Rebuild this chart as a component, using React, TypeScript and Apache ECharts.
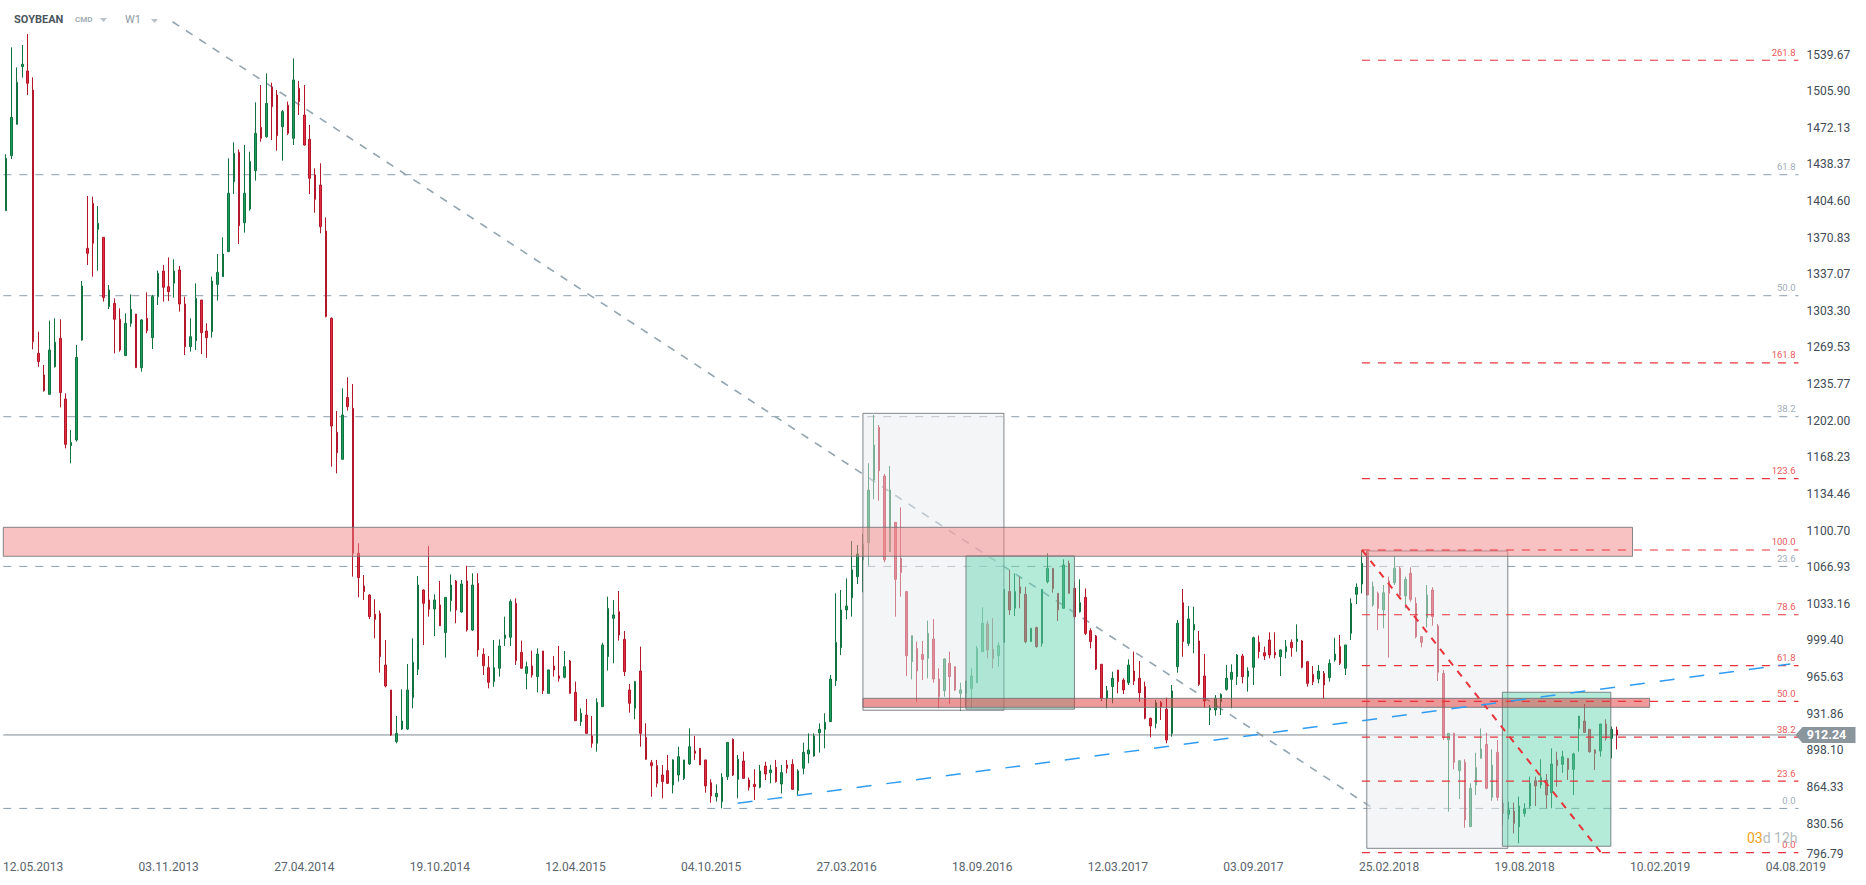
import { useEffect, useRef } from "react";
import * as echarts from "echarts";

// ---------- axis data ----------
const firstWeekUTC = Date.UTC(2013, 3, 7); // first weekly candle (Sunday)
const axisWeeks = 331; // weekly slots on the time axis, up to 04.08.2019

const dateTickLabels = [
  "12.05.2013", "03.11.2013", "27.04.2014", "19.10.2014", "12.04.2015", "04.10.2015", "27.03.2016",
  "18.09.2016", "12.03.2017", "03.09.2017", "25.02.2018", "19.08.2018", "10.02.2019", "04.08.2019",
];

const priceTicks = [
  796.79, 830.56, 864.33, 898.1, 931.86, 965.63, 999.4, 1033.16, 1066.93, 1100.7, 1134.46, 1168.23,
  1202.0, 1235.77, 1269.53, 1303.3, 1337.07, 1370.83, 1404.6, 1438.37, 1472.13, 1505.9, 1539.67,
];
const priceMin = 796.79;
const priceMax = 1589.93;

// ---------- weekly candles: [open, close, low, high] ----------
const weeks2013 = [
  [1395.7, 1443.9, 1395.7, 1447.6], [1446.4, 1481.7, 1443.3, 1546.3], [1475.3, 1514.0, 1475.3, 1527.8],
  [1528.5, 1530.6, 1518.3, 1548.4], [1524.5, 1513.1, 1502.3, 1558.6], [1506.9, 1274.9, 1267.8, 1518.6],
  [1264.1, 1256.5, 1251.8, 1284.1], [1244.2, 1229.7, 1228.8, 1253.4], [1226.3, 1267.2, 1226.3, 1294.3],
  [1251.8, 1274.3, 1250.9, 1296.4], [1278.0, 1227.9, 1214.3, 1295.5], [1222.0, 1180.2, 1176.5, 1227.2],
  [1179.0, 1181.8, 1162.7, 1193.4], [1184.2, 1260.4, 1182.7, 1271.8], [1276.4, 1326.2, 1275.8, 1330.8],
  [1361.0, 1356.3, 1345.6, 1409.2], [1402.4, 1365.6, 1334.8, 1408.6], [1378.5, 1384.0, 1340.4, 1400.0],
  [1371.1, 1315.5, 1311.8, 1371.1], [1307.2, 1322.5, 1305.0, 1327.1], [1310.2, 1295.5, 1264.1, 1314.8],
  [1295.5, 1267.2, 1265.7, 1305.6], [1262.0, 1291.8, 1262.0, 1301.0], [1291.8, 1304.7, 1288.7, 1318.5],
  [1300.4, 1250.9, 1250.9, 1300.4], [1250.9, 1294.9, 1247.2, 1295.5], [1296.4, 1285.0, 1282.6, 1320.4],
  [1278.6, 1316.4, 1268.1, 1317.9], [1316.4, 1337.9, 1308.7, 1340.4], [1340.0, 1325.0, 1311.8, 1345.6],
  [1325.6, 1321.0, 1312.4, 1352.6], [1328.7, 1340.0, 1315.5, 1350.8], [1341.0, 1309.6, 1302.6, 1344.7],
  [1309.6, 1270.3, 1262.6, 1316.4], [1270.3, 1279.5, 1265.7, 1296.4], [1275.8, 1314.8, 1267.2, 1328.7],
  [1313.3, 1283.2, 1263.5, 1313.3], [1284.7, 1278.6, 1260.1, 1291.8], [1284.1, 1330.8, 1278.6, 1334.8],
];

const weeks2014 = [
  [1327.7, 1338.8, 1312.7, 1355.7], [1334.8, 1355.7, 1334.8, 1371.1], [1357.9, 1411.7, 1357.9, 1443.9],
  [1422.4, 1448.5, 1411.0, 1458.7], [1449.5, 1381.8, 1365.0, 1452.2], [1384.6, 1411.7, 1375.4, 1456.2],
  [1397.2, 1440.9, 1395.7, 1450.1], [1432.6, 1467.0, 1423.4, 1495.6], [1472.5, 1462.4, 1459.3, 1511.5],
  [1463.9, 1494.6, 1463.0, 1522.3], [1509.4, 1491.6, 1460.8, 1513.7], [1502.3, 1464.8, 1451.0, 1506.9],
  [1473.1, 1487.0, 1441.8, 1488.5], [1492.8, 1467.0, 1465.5, 1496.2], [1462.4, 1516.2, 1456.2, 1536.1],
  [1508.5, 1496.2, 1483.9, 1515.2], [1483.9, 1456.2, 1455.6, 1511.5], [1461.5, 1425.5, 1411.0, 1474.7],
  [1428.6, 1406.1, 1393.8, 1434.7], [1419.3, 1380.9, 1374.8, 1439.3], [1376.9, 1298.0, 1297.3, 1389.5],
  [1296.4, 1197.1, 1159.6, 1297.3], [1191.3, 1172.5, 1153.5, 1211.0], [1166.4, 1207.3, 1166.4, 1231.9],
  [1223.5, 1214.9, 1211.3, 1242.0], [1213.4, 1079.7, 1058.2, 1235.8], [1079.7, 1057.3, 1039.1, 1088.9],
  [1049.6, 1044.4, 1036.7, 1059.7], [1041.3, 1021.3, 1019.2, 1041.9], [1023.5, 1018.9, 1001.3, 1037.3],
  [1024.4, 984.4, 969.7, 1026.9], [976.7, 957.4, 956.1, 999.8], [953.7, 912.2, 911.3, 953.7],
  [906.1, 913.7, 904.5, 929.7], [917.7, 925.1, 916.8, 954.3], [917.7, 953.7, 916.8, 977.7],
  [946.6, 979.2, 936.8, 1001.3], [972.8, 1050.5, 967.5, 1058.8], [1045.9, 1033.6, 995.2, 1046.5],
  [1036.7, 1028.1, 1021.3, 1086.5], [1028.4, 1036.7, 1003.5, 1041.9], [1032.1, 1013.0, 1012.7, 1054.2],
  [1006.6, 1039.1, 983.5, 1039.1], [1036.1, 1050.5, 1025.9, 1060.3], [1054.2, 1027.5, 1015.2, 1055.1],
  [1025.6, 1051.4, 1025.0, 1055.1], [1054.2, 1009.0, 1007.5, 1068.3], [1009.0, 1050.5, 1008.1, 1061.3],
  [1052.0, 990.6, 984.4, 1061.3], [986.6, 976.1, 967.5, 992.1], [974.3, 960.8, 955.2, 985.0],
  [961.4, 974.3, 956.8, 999.8],
];

const weeks2015 = [
  [973.7, 994.3, 966.0, 1000.4], [1001.3, 1004.4, 994.3, 1021.3], [1002.3, 1035.2, 994.3, 1037.3],
  [1033.6, 980.8, 976.8, 1038.2], [988.4, 973.7, 973.7, 999.2], [969.0, 975.2, 954.3, 979.8],
  [975.8, 967.5, 965.1, 990.0], [966.0, 986.9, 951.5, 992.1], [989.7, 953.1, 950.0, 989.7],
  [950.6, 972.2, 950.6, 972.2], [975.8, 972.2, 966.0, 985.0], [966.6, 964.5, 961.4, 994.3],
  [965.4, 975.2, 964.5, 989.7], [980.4, 950.6, 950.6, 981.4], [951.5, 925.4, 925.1, 961.4],
  [924.5, 932.2, 920.5, 936.8], [930.6, 913.7, 913.1, 945.4], [911.3, 904.5, 900.5, 929.7],
  [904.5, 942.3, 896.8, 946.0], [938.3, 995.2, 938.3, 997.3], [984.4, 1029.0, 971.5, 1039.8],
  [1019.8, 1022.9, 978.3, 1036.7], [1025.9, 1004.4, 999.2, 1045.0], [1000.4, 970.6, 966.6, 1008.1],
  [953.7, 941.4, 932.8, 959.2], [936.8, 961.4, 926.7, 962.0], [971.2, 913.7, 901.4, 993.7],
  [910.0, 889.8, 889.2, 923.0], [886.7, 883.9, 855.3, 889.2], [883.9, 867.6, 864.0, 889.2],
  [875.3, 869.2, 853.8, 884.6], [879.3, 867.6, 867.0, 893.8], [866.1, 889.2, 858.4, 889.8],
  [875.3, 892.2, 869.2, 901.4], [872.2, 889.2, 870.7, 889.2], [885.5, 901.4, 884.6, 918.3],
  [897.4, 895.3, 889.2, 911.3], [899.9, 884.6, 884.6, 899.9], [889.2, 865.2, 859.0, 889.2],
  [868.2, 856.0, 849.8, 871.3], [855.3, 858.4, 850.7, 866.7], [850.7, 873.2, 844.6, 876.9],
  [873.8, 905.4, 870.7, 905.4], [908.2, 875.3, 874.4, 909.1], [871.3, 889.8, 853.8, 893.8],
  [888.2, 872.2, 872.2, 896.8], [870.7, 864.0, 860.9, 872.9], [866.7, 864.6, 852.3, 880.6],
  [864.0, 879.0, 863.0, 884.6], [883.6, 876.2, 870.7, 887.6], [877.5, 879.9, 867.6, 884.6],
  [882.4, 869.2, 868.3, 889.2],
];

const weeks2016 = [
  [867.0, 877.5, 858.4, 884.6], [884.6, 881.5, 876.9, 889.2], [885.2, 862.1, 861.5, 889.8],
  [860.9, 879.0, 856.9, 880.6], [881.5, 896.2, 875.9, 905.1], [894.7, 898.4, 886.1, 913.7],
  [892.8, 911.3, 892.2, 913.7], [914.3, 917.4, 895.9, 922.9], [917.4, 923.9, 899.9, 932.2],
  [924.5, 963.8, 924.5, 967.5], [962.3, 997.6, 957.4, 1042.8], [992.7, 1027.5, 986.0, 1045.9],
  [1027.5, 1031.1, 1018.9, 1056.6], [1038.8, 1064.4, 1021.3, 1091.1], [1058.2, 1079.1, 1051.4, 1087.4],
  [1073.6, 1088.3, 1043.8, 1097.5], [1089.5, 1138.1, 1068.3, 1162.7], [1147.3, 1179.6, 1129.5, 1207.3],
  [1195.9, 1155.9, 1128.3, 1198.0], [1151.0, 1073.6, 1071.4, 1152.9], [1081.2, 1138.1, 1081.2, 1160.2],
  [1108.3, 1055.7, 1021.3, 1108.3], [1075.1, 1061.9, 1039.8, 1122.1], [1044.4, 985.3, 966.6, 1044.4],
  [979.8, 1003.8, 963.5, 1003.8], [992.1, 971.2, 942.9, 998.3], [986.6, 981.9, 962.9, 998.9],
  [982.9, 1005.9, 964.5, 1017.6], [1000.7, 963.8, 960.4, 1019.2], [963.8, 947.5, 936.8, 973.7],
  [953.1, 982.3, 947.5, 982.9], [978.3, 966.0, 940.8, 989.0], [975.2, 953.7, 952.8, 975.2],
  [950.6, 953.7, 934.3, 960.4], [950.6, 962.0, 938.3, 962.0], [955.2, 966.6, 936.8, 973.7],
  [960.4, 992.1, 960.4, 994.3], [989.0, 1015.2, 989.0, 1029.9], [1014.5, 990.6, 982.9, 1017.6],
  [991.2, 982.9, 973.7, 1019.8], [985.3, 994.6, 975.2, 997.6], [997.6, 1046.5, 997.6, 1046.5],
  [1044.4, 1027.5, 1022.9, 1064.4], [1029.0, 1044.4, 1021.9, 1061.3], [1048.9, 1042.8, 1029.0, 1058.2],
  [1041.9, 998.3, 996.7, 1048.9], [998.3, 1010.6, 998.3, 1010.6], [1011.2, 993.7, 992.7, 1012.1],
  [996.7, 1046.5, 993.7, 1046.5], [1053.6, 1065.9, 1052.0, 1079.7], [1065.9, 1047.4, 1043.4, 1065.9],
  [1042.8, 1027.5, 1017.3, 1042.8],
];

const weeks2017 = [
  [1029.0, 1069.0, 1029.0, 1074.2], [1070.5, 1042.8, 1042.8, 1073.0], [1047.4, 1021.3, 1018.9, 1054.2],
  [1025.9, 1034.2, 1025.0, 1055.7], [1039.1, 1005.9, 1004.4, 1047.4], [1008.4, 998.3, 992.1, 1010.6],
  [1003.5, 973.0, 972.1, 1004.4], [977.4, 946.0, 943.5, 977.4], [946.0, 953.1, 936.8, 957.4],
  [956.8, 964.5, 941.4, 970.6], [972.1, 961.4, 950.6, 972.1], [962.9, 953.7, 950.0, 964.5],
  [960.4, 976.7, 958.3, 981.9], [971.2, 962.0, 958.3, 989.0], [964.5, 951.2, 942.9, 980.4],
  [956.8, 927.6, 926.6, 961.4], [927.6, 920.5, 910.0, 928.2], [922.9, 942.0, 918.3, 944.5],
  [942.0, 938.3, 926.0, 943.5], [935.9, 907.6, 904.5, 946.6], [913.7, 952.8, 910.6, 958.3],
  [975.2, 1015.2, 969.7, 1018.2], [1034.2, 998.3, 984.4, 1046.8], [996.7, 1019.2, 994.3, 1031.1],
  [1009.0, 1014.2, 987.5, 1030.5], [998.9, 958.9, 957.4, 1008.1], [966.6, 943.5, 937.4, 986.9],
  [935.3, 936.8, 921.4, 939.9], [935.3, 946.0, 930.0, 949.0], [942.9, 949.6, 930.6, 950.6],
  [954.3, 964.5, 953.1, 976.7], [963.5, 970.0, 936.8, 977.4], [966.0, 985.9, 958.3, 986.9],
  [985.0, 966.0, 959.8, 986.9], [966.0, 971.2, 952.2, 974.6], [974.6, 1001.9, 958.3, 1002.9],
  [997.6, 989.0, 982.9, 1003.8], [988.1, 985.0, 981.4, 993.7], [999.8, 986.0, 982.9, 1006.9],
  [988.4, 986.0, 982.9, 1006.9], [984.4, 990.6, 966.6, 991.2], [989.0, 993.7, 982.9, 999.8],
  [997.6, 992.7, 984.4, 1000.4], [998.3, 1000.7, 989.0, 1014.2], [998.9, 974.6, 973.7, 999.8],
  [979.8, 959.8, 956.8, 980.4], [968.1, 961.4, 958.3, 975.8], [963.8, 971.2, 959.8, 976.7],
  [969.0, 958.3, 945.4, 971.2], [965.1, 978.3, 961.4, 981.9], [981.4, 986.9, 979.8, 1001.9],
  [993.7, 978.3, 976.7, 1004.4],
];

const weeks2018 = [
  [973.7, 995.2, 967.5, 995.2], [1005.9, 1033.6, 999.8, 1038.2], [1041.9, 1048.4, 1033.0, 1052.0],
  [1051.4, 1070.5, 1042.8, 1082.8], [1081.0, 1041.3, 1041.3, 1082.2], [1032.1, 1049.0, 1030.5, 1053.6],
  [1042.8, 1029.0, 1009.0, 1044.4], [1027.5, 1043.4, 1010.6, 1050.5], [1054.2, 1042.8, 983.5, 1058.2],
  [1052.6, 1065.9, 1050.5, 1077.2], [1065.9, 1040.4, 1039.8, 1067.4], [1040.4, 1055.7, 1029.0, 1058.2],
  [1061.3, 1037.3, 1035.1, 1066.8], [1033.6, 1002.9, 1001.3, 1039.1], [1002.9, 997.6, 993.0, 1002.9],
  [1020.4, 1041.3, 1011.5, 1050.5], [1045.9, 1021.3, 1013.0, 1048.4], [1012.7, 970.0, 962.0, 1014.5],
  [969.0, 910.0, 907.6, 972.1], [907.6, 913.7, 841.5, 913.7], [913.7, 887.0, 880.5, 914.3],
  [879.3, 888.5, 853.2, 889.2], [887.0, 833.8, 826.7, 889.8], [827.7, 863.0, 827.7, 867.6],
  [866.1, 882.1, 856.9, 895.9], [890.7, 899.3, 890.7, 918.3], [903.6, 863.0, 862.1, 914.3],
  [854.7, 884.5, 851.6, 899.0], [896.2, 854.7, 851.6, 907.6], [849.2, 840.0, 829.2, 852.9],
  [839.0, 843.1, 834.4, 850.7], [842.1, 830.7, 821.5, 849.8], [827.6, 846.7, 812.3, 855.3],
  [839.9, 843.9, 836.9, 849.2], [846.7, 867.6, 844.6, 873.8], [870.1, 865.2, 846.7, 873.8],
  [866.1, 873.2, 863.0, 889.8], [870.7, 856.9, 844.6, 876.2], [859.0, 885.4, 844.6, 899.9],
  [889.1, 883.9, 864.5, 896.8], [885.1, 892.1, 877.4, 897.7], [890.6, 880.5, 870.7, 890.6],
  [880.5, 894.7, 856.9, 895.9], [918.3, 929.7, 896.8, 929.7], [925.1, 914.6, 914.6, 940.8],
  [917.4, 896.8, 895.9, 917.4], [898.4, 895.3, 879.9, 899.0], [897.4, 922.3, 892.2, 922.3],
  [922.3, 909.1, 907.0, 926.6], [909.1, 917.4, 890.7, 919.9], [916.8, 912.24, 898.9, 919.9],
];

const lastPrice = 912.24;

// ---------- drawings (data space: week index, price) ----------
const grayFibLow = 844.5;
const grayFibHigh = 1790.0;
const grayFibLevels = [0, 23.6, 38.2, 50, 61.8];

const redFibLow = 803.7;
const redFibHigh = 1082.8;
const redFibStartWeek = 250;
const redFibLevels = [0, 23.6, 38.2, 50, 61.8, 78.6, 100, 123.6, 161.8, 261.8];

const grayTrend = [[30.7, 1569.9], [251.6, 846.1]];
const blueTrend = [[134.9, 849.2], [329.0, 977.7]];
const redTrend = [[250.0, 1082.8], [294.1, 803.7]];

// [fromWeek, toWeek, topPrice, bottomPrice, kind]
const rangeBoxes: [number, number, number, number, string][] = [
  [158.0, 184.0, 1208.8, 935.0, "gray"],
  [177.0, 197.0, 1077.5, 936.0, "green"],
  [250.9, 276.9, 1081.9, 807.7, "gray"],
  [275.9, 295.9, 951.6, 809.6, "green"],
];
const priceZones: [number, number, number, number, string][] = [
  [-0.5, 299.9, 1103.7, 1077.0, "resistance"],
  [158.0, 303.05, 946.0, 937.7, "support"],
];

// ---------- styles ----------
const FONT = "Roboto, 'Noto Sans', sans-serif";
const boxFill: Record<string, string> = {
  gray: "rgba(233,235,239,0.5)",
  green: "rgba(103,213,177,0.5)",
  resistance: "rgba(243,133,133,0.5)",
  support: "rgba(225,55,55,0.5)",
};

const pad = (n: number) => (n < 10 ? "0" + n : "" + n);
const weekDates = Array.from({ length: axisWeeks }, (_, i) => {
  const d = new Date(firstWeekUTC + i * 7 * 86400000);
  return `${pad(d.getUTCDate())}.${pad(d.getUTCMonth() + 1)}.${d.getUTCFullYear()}`;
});

const candles = [...weeks2013, ...weeks2014, ...weeks2015, ...weeks2016, ...weeks2017, ...weeks2018];

function projector(api: any) {
  const p0 = api.coord([0, 1000]);
  const p1 = api.coord([1, 1000]);
  const step = p1[0] - p0[0];
  return (week: number, price: number): [number, number] => [p0[0] + week * step, api.coord([0, price])[1]];
}

function renderUnder(_params: any, api: any) {
  const P = projector(api);
  const L = P(-0.5, 1000)[0];
  const R = P(axisWeeks - 0.5, 1000)[0];
  const children: any[] = [];
  grayFibLevels.forEach((lv) => {
    const y = P(0, grayFibLow + (lv / 100) * (grayFibHigh - grayFibLow))[1];
    children.push({
      type: "line",
      shape: { x1: L, y1: y, x2: R, y2: y },
      style: { stroke: "#8d9ea9", lineWidth: 1, lineDash: [8, 8] },
    });
  });
  const a = P(grayTrend[0][0], grayTrend[0][1]);
  const b = P(grayTrend[1][0], grayTrend[1][1]);
  children.push({
    type: "line",
    shape: { x1: a[0], y1: a[1], x2: b[0], y2: b[1] },
    style: { stroke: "#93a5b0", lineWidth: 1.6, lineDash: [8, 8] },
  });
  const yp = P(0, lastPrice)[1];
  children.push({
    type: "line",
    shape: { x1: L, y1: yp, x2: R, y2: yp },
    style: { stroke: "#7f8a91", lineWidth: 1 },
  });
  return { type: "group", children };
}

function renderOver(_params: any, api: any) {
  const P = projector(api);
  const R = P(axisWeeks - 0.5, 1000)[0];
  const children: any[] = [];
  const rect = (b: [number, number, number, number, string]) => {
    const tl = P(b[0], b[2]);
    const br = P(b[1], b[3]);
    children.push({
      type: "rect",
      shape: { x: tl[0], y: tl[1], width: br[0] - tl[0], height: br[1] - tl[1] },
      style: { fill: boxFill[b[4]], stroke: "rgba(110,115,120,0.85)", lineWidth: 1 },
    });
  };
  rangeBoxes.forEach(rect);
  priceZones.forEach(rect);

  // red fibonacci
  redFibLevels.forEach((lv) => {
    const v = redFibLow + (lv / 100) * (redFibHigh - redFibLow);
    const s = P(redFibStartWeek, v);
    children.push({
      type: "line",
      shape: { x1: s[0], y1: s[1], x2: R, y2: s[1] },
      style: { stroke: "#e8333a", lineWidth: 1.2, lineDash: [8, 8] },
    });
    children.push({
      type: "text",
      x: R - 3,
      y: s[1] - 3,
      style: { text: lv.toFixed(1), fill: "#e8585c", font: `9.5px ${FONT}`, align: "right", verticalAlign: "bottom" },
    });
  });
  // gray fibonacci labels
  grayFibLevels.forEach((lv) => {
    const y = P(0, grayFibLow + (lv / 100) * (grayFibHigh - grayFibLow))[1];
    children.push({
      type: "text",
      x: R - 3,
      y: y - 3,
      style: { text: lv.toFixed(1), fill: "#9fadb6", font: `9.5px ${FONT}`, align: "right", verticalAlign: "bottom" },
    });
  });
  // trend lines
  const r0 = P(redTrend[0][0], redTrend[0][1]);
  const r1 = P(redTrend[1][0], redTrend[1][1]);
  children.push({
    type: "line",
    shape: { x1: r0[0], y1: r0[1], x2: r1[0], y2: r1[1] },
    style: { stroke: "#e8333a", lineWidth: 2, lineDash: [7, 7] },
  });
  const b0 = P(blueTrend[0][0], blueTrend[0][1]);
  const b1 = P(blueTrend[1][0], blueTrend[1][1]);
  children.push({
    type: "line",
    shape: { x1: b0[0], y1: b0[1], x2: b1[0], y2: b1[1] },
    style: { stroke: "#2f9cf2", lineWidth: 1.5, lineDash: [15, 15] },
  });
  // last price tag
  const yp = P(0, lastPrice)[1];
  children.push({
    type: "polygon",
    shape: {
      points: [
        [R - 3, yp],
        [R + 4, yp - 8],
        [R + 57, yp - 8],
        [R + 57, yp + 8],
        [R + 4, yp + 8],
      ],
    },
    style: { fill: "#8a959c" },
  });
  children.push({
    type: "text",
    x: R + 28,
    y: yp,
    style: { text: lastPrice.toFixed(2), fill: "#ffffff", font: `bold 12.5px ${FONT}`, align: "center", verticalAlign: "middle" },
  });
  // countdown
  children.push({
    type: "text",
    x: R - 1,
    y: P(0, priceMin)[1] - 22,
    style: {
      text: "{o|03}{g|d 12h}",
      align: "right",
      verticalAlign: "middle",
      rich: {
        o: { fill: "#f5a21c", font: `14px ${FONT}` },
        g: { fill: "#b4bac0", font: `14px ${FONT}` },
      },
    },
  });
  return { type: "group", children };
}

export default function App() {
  const ref = useRef<HTMLDivElement>(null);
  useEffect(() => {
    if (!ref.current) return;
    const chart = echarts.init(ref.current, undefined, { renderer: "svg" });
    const option: any = {
      animation: false,
      backgroundColor: "#ffffff",
      textStyle: { fontFamily: FONT },
      grid: { left: 2.3, top: 0, width: 1796.2, height: 860.15, containLabel: false },
      xAxis: {
        type: "category",
        data: weekDates,
        boundaryGap: true,
        axisLine: { show: false },
        axisTick: { show: false },
        splitLine: { show: false },
        axisLabel: {
          interval: (_i: number, value: string) => dateTickLabels.includes(value),
          color: "#5a646c",
          fontSize: 12,
          margin: 1,
          fontFamily: FONT,
        },
      },
      yAxis: {
        type: "value",
        position: "right",
        min: priceMin,
        max: priceMax,
        scale: true,
        axisLine: { show: false },
        axisTick: { show: false },
        splitLine: { show: false },
        axisLabel: {
          customValues: priceTicks,
          formatter: (v: number) => v.toFixed(2),
          color: "#414c55",
          fontSize: 12,
          margin: 8,
          fontFamily: FONT,
          verticalAlignMinLabel: "bottom",
        },
      },
      graphic: [
        { type: "text", x: 14, y: 19, style: { text: "SOYBEAN", fill: "#4a5560", font: `bold 11px ${FONT}`, verticalAlign: "middle" } },
        { type: "text", x: 75, y: 19, style: { text: "CMD", fill: "#a3adb5", font: `bold 8px ${FONT}`, verticalAlign: "middle" } },
        { type: "polygon", shape: { points: [[100, 18], [107, 18], [103.5, 22]] }, style: { fill: "#b9c2c8" } },
        { type: "text", x: 125, y: 19, style: { text: "W1", fill: "#8d98a1", font: `11px ${FONT}`, verticalAlign: "middle" } },
        { type: "polygon", shape: { points: [[151, 19], [158, 19], [154.5, 23]] }, style: { fill: "#b9c2c8" } },
      ],
      series: [
        {
          type: "custom",
          name: "under",
          z: 1,
          silent: true,
          data: [[0, 1000]],
          renderItem: renderUnder,
        },
        {
          type: "candlestick",
          name: "SOYBEAN",
          z: 2,
          barWidth: 2,
          data: candles,
          itemStyle: {
            color: "#1f9d5e",
            color0: "#e42c40",
            borderColor: "#10733f",
            borderColor0: "#b3172a",
            borderWidth: 1,
          },
        },
        {
          type: "custom",
          name: "over",
          z: 3,
          silent: true,
          clip: false,
          data: [[0, 1000]],
          renderItem: renderOver,
        },
      ],
    };
    chart.setOption(option);
    return () => chart.dispose();
  }, []);
  return (
    <div
      ref={ref}
      style={{ position: "fixed", left: 0, top: 0, width: 1866, height: 885, background: "#ffffff" }}
    />
  );
}
